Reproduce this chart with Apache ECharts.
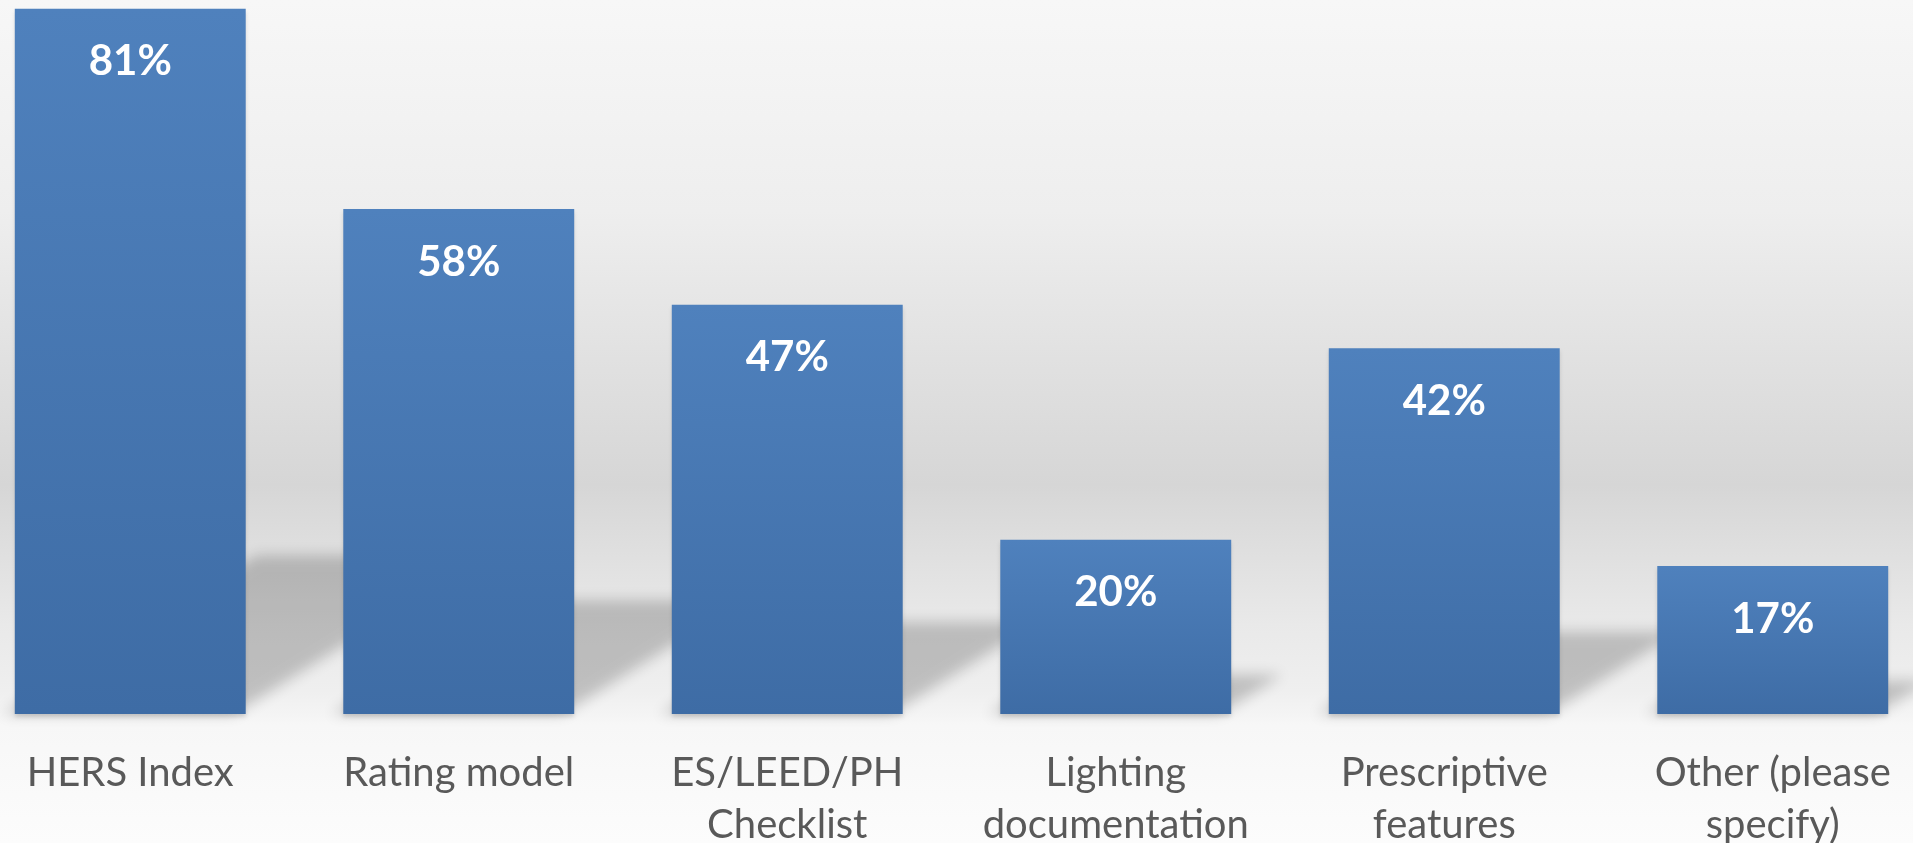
<!DOCTYPE html>
<html>
<head>
<meta charset="utf-8">
<title>Survey results</title>
<script src="https://cdn.jsdelivr.net/npm/echarts@6/dist/echarts.min.js"></script>
<style>
  html, body { margin: 0; padding: 0; }
  #chart { width: 1913px; height: 843px; }
</style>
</head>
<body>
<div id="chart"></div>
<script>
// Categories (line breaks as shown under each bar)
const categories = [
  'HERS Index',
  'Rating model',
  'ES/LEED/PH\nChecklist',
  'Lighting\ndocumentation',
  'Prescriptive\nfeatures',
  'Other (please\nspecify)'
];
// Share of respondents, percent
const percentValues = [81, 58, 47, 20, 42, 17];

const BAR_RATIO = 0.703;   // bar width as a share of the category band
const chart = echarts.init(document.getElementById('chart'));

// Perspective "floor" shadow cast behind each bar, drawn through an
// offset canvas shadow so its edges are soft.
const OFF = 4000;
function renderFloorShadow(params, api) {
  const idx = api.value(0);
  const v = api.value(1);
  const base = api.coord([idx, 0]);
  const top = api.coord([idx, v]);
  const band = api.size([1, 0])[0];
  const w = band * BAR_RATIO;
  const h = base[1] - top[1];
  const s = 0.225 * h;
  const dx = 1.6 * s;
  const x0 = base[0] - w / 2 - 12;
  const x1 = base[0] + w / 2 - 12;
  const y0 = base[1];
  return {
    type: 'polygon',
    shape: {
      points: [
        [x0 - OFF, y0],
        [x1 - OFF, y0],
        [x1 + dx - OFF, y0 - s],
        [x0 + dx - OFF, y0 - s]
      ]
    },
    style: {
      fill: '#000',
      shadowColor: 'rgba(0,0,0,0.2)',
      shadowBlur: 14,
      shadowOffsetX: OFF,
      shadowOffsetY: 0
    }
  };
}

chart.setOption({
  animation: false,
  backgroundColor: {
    type: 'linear', x: 0, y: 0, x2: 0, y2: 1,
    colorStops: [
      { offset: 0.00, color: '#f7f7f7' },
      { offset: 0.25, color: '#eeeeee' },
      { offset: 0.575, color: '#d6d6d6' },
      { offset: 0.74, color: '#e9e9e9' },
      { offset: 0.82, color: '#efefef' },
      { offset: 0.847, color: '#f4f4f4' },
      { offset: 0.86, color: '#f7f7f7' },
      { offset: 1.00, color: '#fcfcfc' }
    ]
  },
  grid: {
    left: -34, right: -24, top: 0, bottom: 129,
    containLabel: false,
    outerBoundsMode: 'none'
  },
  xAxis: {
    type: 'category',
    data: categories,
    axisLine: { show: false },
    axisTick: { show: false },
    axisLabel: {
      interval: 0,
      margin: 33,
      color: '#595959',
      fontFamily: 'Lato',
      fontSize: 40,
      lineHeight: 52,
      hideOverlap: false
    }
  },
  yAxis: {
    type: 'value',
    min: 0,
    max: 82,
    show: false,
    splitLine: { show: false }
  },
  series: [
    {
      type: 'custom',
      z: 1,
      silent: true,
      renderItem: renderFloorShadow,
      data: percentValues.map((v, i) => [i, v])
    },
    {
      type: 'bar',
      z: 2,
      data: percentValues,
      barWidth: (BAR_RATIO * 100) + '%',
      itemStyle: {
        color: {
          type: 'linear', x: 0, y: 0, x2: 0, y2: 1,
          colorStops: [
            { offset: 0, color: '#4f81bd' },
            { offset: 1, color: '#3e6ca5' }
          ]
        },
        shadowColor: 'rgba(0,0,0,0.12)',
        shadowBlur: 4,
        shadowOffsetY: 3
      },
      label: {
        show: true,
        position: 'insideTop',
        distance: 32,
        formatter: '{c}%',
        color: '#ffffff',
        fontFamily: 'Lato',
        fontWeight: 'bold',
        fontSize: 42
      }
    }
  ]
});
</script>
</body>
</html>
